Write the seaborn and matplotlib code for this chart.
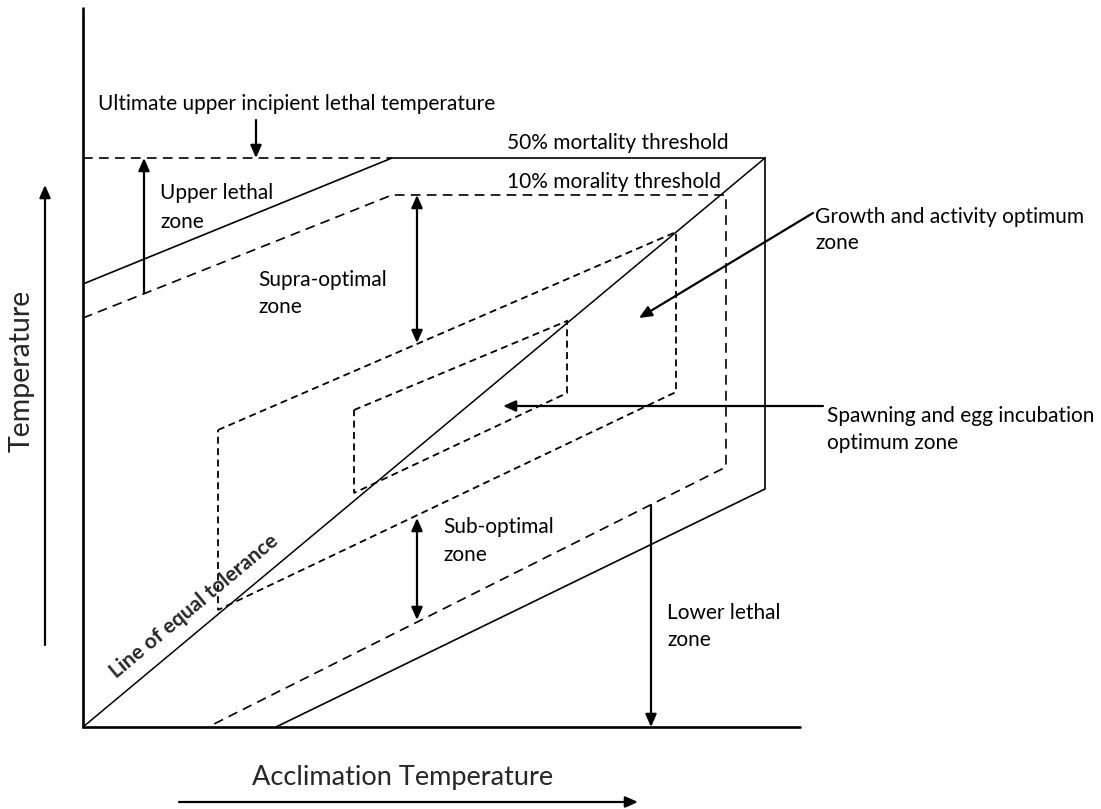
import matplotlib
matplotlib.use("Agg")
import matplotlib.pyplot as plt
import seaborn as sns
import pandas as pd

# ---- data (diagram units: origin at the axis corner, 1 unit ~ 1 px) ----
axis_x = [0, 0, 717]
axis_y = [719, 0, 0]

mort50_x = [0, 309, 682, 682, 193]
mort50_y = [443, 569, 569, 238, 0]

ult_x = [0, 309]
ult_y = [569, 569]

mort10_x = [0, 309, 643, 643, 125]
mort10_y = [409, 532, 532, 260, 0]

equal_x = [0, 682]
equal_y = [0, 569]

growth_x = [135, 593, 593, 135, 135]
growth_y = [297, 495, 335, 117, 297]

spawn_x = [271, 484, 484, 271, 271]
spawn_y = [317, 406, 334, 234, 317]

# arrows: (x_tail, y_tail, x_head, y_head, style)
arrows = [
    (173, 607, 173, 569, "-|>"),
    (61, 434, 61, 569, "-|>"),
    (334, 384, 334, 532, "<|-|>"),
    (334, 107, 334, 209, "<|-|>"),
    (568, 222, 568, 0, "-|>"),
    (730, 514, 556, 409, "-|>"),
    (740, 321, 420, 321, "-|>"),
    (-38, 82, -38, 542, "-|>"),
    (96, -75, 555, -75, "-|>"),
]

labels = [
    ("Ultimate upper incipient lethal temperature", 15, 623),
    ("50% mortality threshold", 424, 584),
    ("10% morality threshold", 424, 545),
    ("Upper lethal", 77, 534), ("zone", 77, 505),
    ("Supra-optimal", 175, 447), ("zone", 175, 420),
    ("Growth and activity optimum", 732, 510), ("zone", 732, 484),
    ("Spawning and egg incubation", 744, 311), ("optimum zone", 744, 284),
    ("Sub-optimal", 360, 200), ("zone", 360, 172),
    ("Lower lethal", 584, 114), ("zone", 584, 87),
]

# ---- style ----
sns.set_theme(style="white")
plt.rcParams["font.family"] = ["Lato", "DejaVu Sans"]
plt.rcParams["lines.scale_dashes"] = False

fig = plt.figure(figsize=(11.01, 8.09), dpi=100)
ax = fig.add_axes([0, 0, 1, 1])
ax.set_xlim(-83, 1018)
ax.set_ylim(-82, 727)
ax.axis("off")

def line(xs, ys, lw, ls="-"):
    df = pd.DataFrame({"x": xs, "y": ys})
    sns.lineplot(data=df, x="x", y="y", sort=False, estimator=None, color="black",
                 lw=lw, linestyle=ls, ax=ax, solid_joinstyle="miter",
                 dash_joinstyle="miter")

line(axis_x, axis_y, 1.9)
line(mort50_x, mort50_y, 1.2)
line(ult_x, ult_y, 1.2, (0, (7.0, 4.5)))
line(mort10_x, mort10_y, 1.2, (0, (7.0, 4.5)))
line(equal_x, equal_y, 1.1)
line(growth_x, growth_y, 1.3, (0, (5.0, 3.2)))
line(spawn_x, spawn_y, 1.3, (0, (5.0, 3.2)))

for xt, yt, xh, yh, st in arrows:
    ax.annotate("", xy=(xh, yh), xytext=(xt, yt),
                arrowprops=dict(arrowstyle=st + ",head_length=0.75,head_width=0.33",
                                mutation_scale=10, lw=1.6, color="black",
                                shrinkA=0, shrinkB=0))

for txt, x, y in labels:
    ax.text(x, y, txt, fontsize=15, ha="left", va="center", color="black")

ax.text(111, 121, "Line of equal tolerance", fontsize=15, fontweight="bold",
        rotation=39.8, rotation_mode="anchor", ha="center", va="center")
ax.text(-61, 356, "Temperature", fontsize=20.5, rotation=90, ha="center", va="center")
ax.text(320, -50, "Acclimation Temperature", fontsize=19.5, ha="center", va="center")

fig.savefig("out.png", dpi=100, facecolor="white")
